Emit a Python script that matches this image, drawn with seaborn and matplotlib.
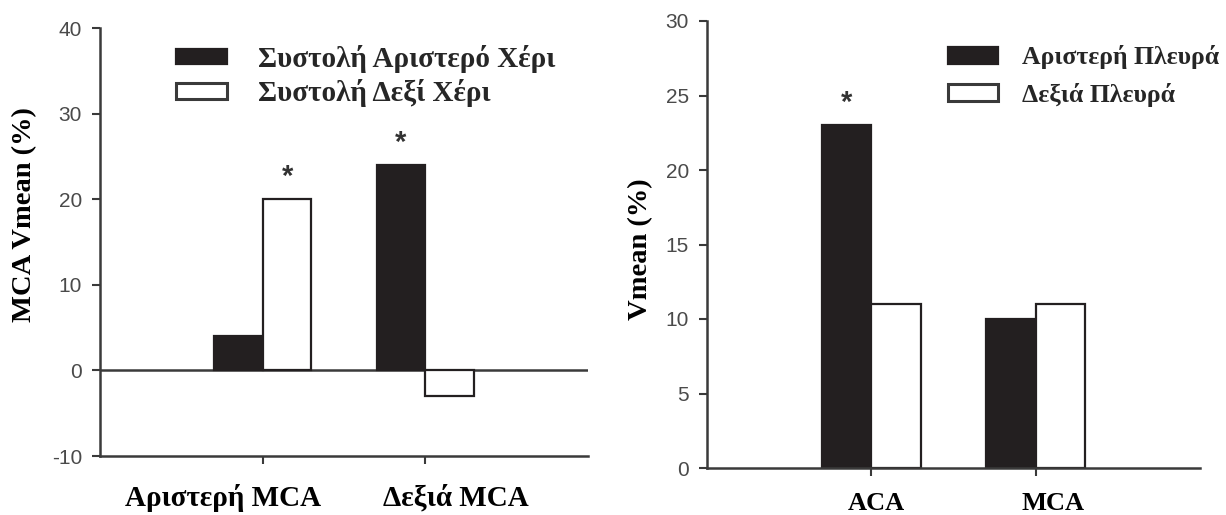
import numpy as np
import pandas as pd
import matplotlib
matplotlib.use("Agg")
import matplotlib.pyplot as plt
import matplotlib.transforms as mtransforms
from matplotlib.patches import Patch
import seaborn as sns

# ---------------- data ----------------
left_categories = ["Αριστερή MCA", "Δεξιά MCA"]
left_series = ["Συστολή Αριστερό Χέρι", "Συστολή Δεξί Χέρι"]
left_black = [4, 24]
left_white = [20, -3]
left_stars = [(0, 1), (1, 0)]          # (category index, series index)
left_yticks = [-10, 0, 10, 20, 30, 40]

right_categories = ["ACA", "MCA"]
right_series = ["Αριστερή Πλευρά", "Δεξιά Πλευρά"]
right_black = [23, 10]
right_white = [11, 11]
right_stars = [(0, 0)]
right_yticks = [0, 5, 10, 15, 20, 25, 30]

# ---------------- style ----------------
sns.set_theme(style="white")
plt.rcParams["font.family"] = ["Liberation Sans", "DejaVu Sans"]
SERIF = ["Liberation Serif", "DejaVu Serif"]
DARK = "#231f20"
AXC = "#3a3a3a"
TICKC = "#4a4a4a"

fig = plt.figure(figsize=(12.26, 5.15), dpi=100)
ax1 = fig.add_axes([100 / 1226, 1 - 456 / 515, (588 - 100) / 1226, (456 - 28) / 515])
ax2 = fig.add_axes([707 / 1226, 1 - 468 / 515, (1200 - 707) / 1226, (468 - 21) / 515])


def draw(ax, cats, series, black, white, stars, yticks, ylim, ylabel,
         cat_fs, cat_dx, cat_pad, label_xy, leg_anchor, leg_fs, hl, hh, htp, lsp, zero_line):
    df = pd.DataFrame({
        "cat": cats * 2,
        "series": [series[0]] * len(cats) + [series[1]] * len(cats),
        "value": list(black) + list(white),
    })
    sns.barplot(data=df, x="cat", y="value", hue="series", hue_order=series,
                order=cats, palette=[DARK, "white"], edgecolor=DARK, linewidth=1.6,
                width=0.6, gap=0, legend=False, ax=ax, errorbar=None, saturation=1)
    ax.set_xlim(-1, 2)
    ax.set_ylim(*ylim)
    ax.set_yticks(yticks)
    ax.set_yticklabels([str(t) for t in yticks])
    for s in ["top", "right"]:
        ax.spines[s].set_visible(False)
    for s in ["left", "bottom"]:
        ax.spines[s].set_color(AXC)
        ax.spines[s].set_linewidth(1.8)
    if zero_line:
        ax.axhline(0, color=AXC, lw=1.8, zorder=0.5)
    ax.tick_params(axis="y", direction="out", length=6, width=1.5, color=AXC,
                   labelsize=15, labelcolor=TICKC, pad=7, left=True)
    ax.tick_params(axis="x", direction="out", length=6, width=1.5, color=AXC,
                   pad=cat_pad, bottom=True)
    ax.set_xlabel("")
    ax.set_ylabel(ylabel, fontsize=20.5, fontweight="bold", family=SERIF, color="black")
    ax.yaxis.set_label_coords(*label_xy)
    for lab, dx in zip(ax.get_xticklabels(), cat_dx):
        lab.set_fontsize(cat_fs)
        lab.set_fontweight("bold")
        lab.set_family(SERIF)
        lab.set_color("black")
        lab.set_transform(lab.get_transform() +
                          mtransforms.ScaledTranslation(dx / 100, 0, fig.dpi_scale_trans))
    # significance stars
    vals = [black, white]
    offs = [-0.15, 0.15]
    for ci, si in stars:
        ax.annotate("*", xy=(ci + offs[si], vals[si][ci]), xytext=(0, 16),
                    textcoords="offset points", ha="center", va="center",
                    fontsize=21, fontweight="bold", color="#333333")
    handles = [Patch(facecolor=DARK, edgecolor=DARK, lw=1.6),
               Patch(facecolor="white", edgecolor=AXC, lw=2.2)]
    leg = ax.legend(handles, series, loc="center left", bbox_to_anchor=leg_anchor,
                    bbox_transform=fig.transFigure, frameon=False, borderpad=0,
                    borderaxespad=0, handlelength=hl, handleheight=hh,
                    handletextpad=htp, labelspacing=lsp,
                    prop={"family": SERIF, "weight": "bold", "size": leg_fs})
    leg.set_clip_on(False)


draw(ax1, left_categories, left_series, left_black, left_white, left_stars,
     left_yticks, (-10, 40), "MCA Vmean (%)", 21, [-40, 31], 14, (-0.129, 0.563),
     (176 / 1226, 1 - 76 / 515), 21, 1.75, 0.45, 1.05, 0.22, True)

draw(ax2, right_categories, right_series, right_black, right_white, right_stars,
     right_yticks, (0, 30), "Vmean (%)", 19, [5, 17], 11, (-0.110, 0.49),
     (948 / 1226, 1 - 76 / 515), 18.5, 1.95, 0.62, 0.93, 0.52, False)

fig.savefig("out.png", dpi=100)
